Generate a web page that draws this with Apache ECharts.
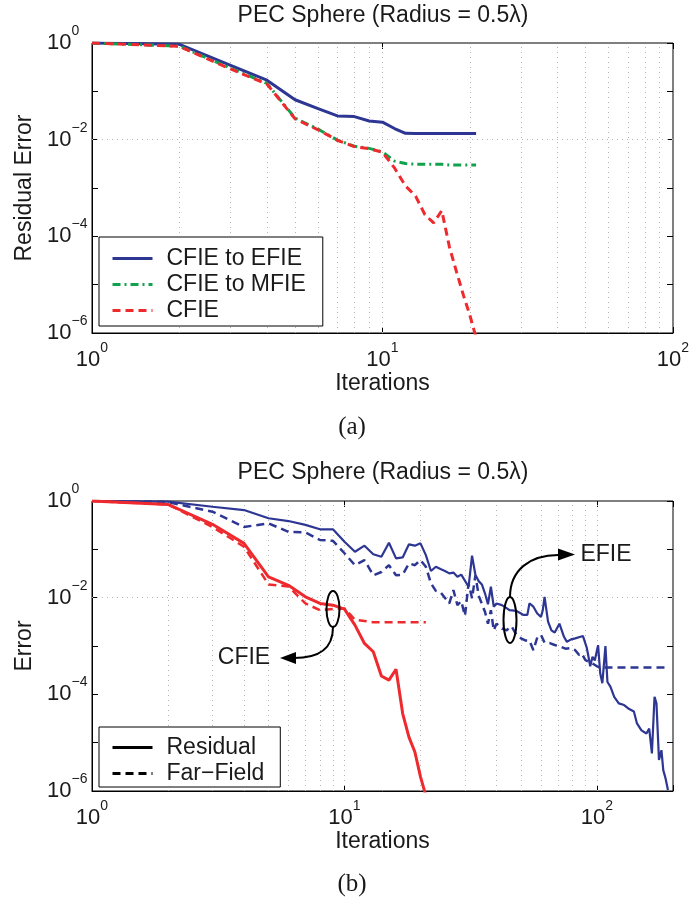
<!DOCTYPE html>
<html><head><meta charset="utf-8">
<script src="https://cdn.jsdelivr.net/npm/echarts@6/dist/echarts.min.js"></script>
<style>html,body{margin:0;padding:0;background:#fff}#c{width:693px;height:900px}</style>
</head><body><div id="c"></div><script>
const FONT = '"Liberation Sans", Arial, Helvetica, sans-serif';
const SERIF = '"Liberation Serif", "Times New Roman", serif';

// ---------- (a) data ----------
const iterA = [1,2,3,4,5,6,7,8,9,10,11,12,13,14,15,16,17,18,19,20,21];
const cfieToEfie = [1,0.94,0.345,0.17,0.067,0.044,0.031,0.030,0.0243,0.023,0.017,0.0135,0.0134,0.0134,0.0134,0.0134,0.0134,0.0134,0.0134,0.0134,0.0134];
const cfieToMfie = [1,0.86,0.30,0.146,0.028,0.0165,0.0098,0.0073,0.0066,0.0056,0.0036,0.0032,0.0031,0.0031,0.0031,0.0031,0.0030,0.0030,0.0030,0.0030,0.0030];
const cfieA = [1,0.85,0.29,0.142,0.027,0.016,0.0097,0.0072,0.0065,0.0055,0.0026,0.0011,0.00068,0.00028,0.00019,0.00034,0.00006,0.000018,0.000006,0.0000023,0.0000008];

// ---------- (b) data ----------
const iterCfieB = [1,2,3,4,5,6,7,8,9,10,11,12,13,14,15,16,17,18,19,20,21];
const cfieResidual = [1,0.85,0.33,0.133,0.027,0.018,0.0104,0.0076,0.0070,0.0058,0.0027,0.00113,0.00076,0.00024,0.000197,0.00033,0.00004,0.000013,0.0000064,0.00000196,0.0000008];
const cfieFarField = [1,0.85,0.29,0.113,0.0188,0.017,0.0076,0.0055,0.0058,0.0060,0.0035,0.0033,0.0031,0.0031,0.0031,0.0031,0.0031,0.0031,0.0031,0.0031,0.0031];

const iterEfieRes = [1,2,3,4,5,6,7,8,9,10,11,12,13,14,15,16,17,18,19,20,21,22,23,24,25,26,27,28,29,31,32,33,34,35,36,37,38,39,40,42,44,45,47,48,50,51,53,54,56,58,60,61,62,64,66,68,71,74,76,79,82,86,88,91,92,94,96,98,101,103,105,108,110,113,117,122,128,133,140,144,150,157,161,165,169,172,176,180,183,187,191];
const efieResidual = [1,0.97,0.76,0.65,0.44,0.385,0.32,0.26,0.26,0.144,0.089,0.119,0.079,0.070,0.137,0.065,0.068,0.127,0.119,0.133,0.076,0.0356,0.0436,0.039,0.0356,0.0318,0.033,0.027,0.030,0.0168,0.074,0.0294,0.022,0.0188,0.0123,0.0073,0.0168,0.0065,0.0076,0.0070,0.0060,0.0055,0.0054,0.0053,0.0047,0.0044,0.0044,0.0076,0.0065,0.0047,0.0040,0.0055,0.0104,0.0032,0.0021,0.0019,0.0029,0.00155,0.00122,0.00137,0.00144,0.00155,0.0016,0.00094,0.00071,0.00038,0.0006,0.0005,0.00104,0.00027,0.00017,0.001,0.00018,0.000144,0.000089,0.000065,0.00006,0.000051,0.000044,0.000025,0.000018,0.0000155,0.0000196,0.000006,0.000089,0.000065,0.0000044,0.000007,0.0000027,0.0000018,0.00000105];

const iterEfieFar = [1,2,3,4,5,6,7,8,9,10,11,12,13,14,15,16,17,18,19,20,21,22,23,24,26,27,28,29,30,31,32,33,34,36,37,38,39,40,42,44,45,46,48,50,52,54,56,58,60,62,65,68,72,75,79,82,85,87,90,95,100,103,120,140,160,190];
const efieFarField = [1,0.95,0.60,0.29,0.345,0.23,0.225,0.156,0.150,0.083,0.047,0.060,0.029,0.034,0.047,0.029,0.030,0.051,0.047,0.060,0.0436,0.0198,0.0138,0.013,0.0076,0.0144,0.0070,0.0085,0.0042,0.0198,0.0097,0.029,0.011,0.0051,0.0029,0.0055,0.0021,0.0029,0.0023,0.0021,0.0025,0.0025,0.0017,0.00144,0.0013,0.0013,0.00082,0.0015,0.0017,0.00117,0.00115,0.00105,0.00096,0.00088,0.0009,0.00082,0.00065,0.0007,0.00051,0.00045,0.00038,0.00036,0.00036,0.00036,0.00036,0.00036];

// ---------- grid lines ----------
const xGridA = [2,3,4,5,6,7,8,9,10,20,30,40,50,60,70,80,90];
const xGridB = [2,3,4,5,6,7,8,9,10,20,30,40,50,60,70,80,90,100];
const yGridLines = [1e-2, 1e-4];

const BLUE = '#2d3793', RED = '#ee2a2e', GREEN = '#12a14c', INK = '#1a1a1a';

function pairs(xs, ys){ return xs.map((x,i)=>[x, ys[i]]); }
function expLabel(v){
  const l = Math.log10(v), e = Math.round(l);
  if (Math.abs(l - e) > 0.01) return '';
  return '{b|10}{e|' + (e < 0 ? '\u2212' + (-e) : e) + '}';
}
const rich = {
  b: {fontSize: 22, fontFamily: FONT, color: INK, padding: [8,0,8,0]},
  e: {fontSize: 14, fontFamily: FONT, color: INK, verticalAlign: 'top'}
};
function mainX(gi, max){
  return {type:'log', logBase:10, gridIndex:gi, min:1, max:max,
    axisLine:{show:true, lineStyle:{color:'#000', width:1}},
    axisTick:{show:true, inside:true, length:6, lineStyle:{color:'#000'}},
    splitLine:{show:false}, minorTick:{show:false},
    axisLabel:{margin:8, formatter: v=>expLabel(v), rich: rich, showMaxLabel:true},
    name:'Iterations', nameLocation:'middle', nameGap:38,
    nameTextStyle:{fontFamily:FONT, fontSize:23, color:INK}};
}
function topX(gi, max){
  return {type:'log', logBase:10, gridIndex:gi, min:1, max:max, position:'top',
    axisLine:{show:false}, axisTick:{show:true, inside:true, length:6, lineStyle:{color:'#000'}},
    axisLabel:{show:false}, splitLine:{show:false}};
}
function mainY(gi, name){
  return {type:'log', logBase:10, gridIndex:gi, min:1e-6, max:1,
    axisLine:{show:true, lineStyle:{color:'#000', width:1}},
    axisTick:{show:true, inside:true, length:6, lineStyle:{color:'#000'}},
    splitLine:{show:false},
    axisLabel:{margin:45, align:'left', formatter: v=>{const e=Math.round(Math.log10(v)); return (e%2===0)?expLabel(v):'';}, rich: rich},
    name:name, nameLocation:'middle', nameGap:54, nameRotate:90,
    nameTextStyle:{fontFamily:FONT, fontSize:23, color:INK}};
}
function rightY(gi){
  return {type:'log', logBase:10, gridIndex:gi, min:1e-6, max:1, position:'right',
    axisLine:{show:false}, axisTick:{show:true, inside:true, length:6, lineStyle:{color:'#000'}},
    axisLabel:{show:false}, splitLine:{show:false}};
}
function gridMarks(xs){
  return {silent:true, symbol:'none', z:1, animation:false, label:{show:false},
    lineStyle:{color:'#b4b4b4', width:1, type:[1,4]},
    emphasis:{disabled:true},
    data: xs.map(v=>({xAxis:v})).concat(yGridLines.map(v=>({yAxis:v})))};
}
function line(name, gi, xs, ys, color, width, type, extra){
  return Object.assign({name:name, type:'line', xAxisIndex:gi, yAxisIndex:gi, data:pairs(xs, ys),
    symbol:'none', showSymbol:false, z:3, clip:true, color:color,
    lineStyle:{color:color, width:width, type:type}, emphasis:{disabled:true}}, extra||{});
}

const legendText = {fontFamily:FONT, fontSize:23, color:INK, lineHeight:20, padding:[0,0,0,9]};
const legendCommon = {orient:'vertical', left:99, itemWidth:40, itemHeight:20,
  backgroundColor:'#fff', borderColor:'#000', borderWidth:1, borderRadius:0,
  textStyle:legendText, selectedMode:false,
  itemStyle:{opacity:0, borderWidth:0}, lineStyle:{width:3}};

const chart = echarts.init(document.getElementById('c'), null, {renderer:'canvas'});
chart.setOption({
  animation:false,
  backgroundColor:'#fff',
  textStyle:{fontFamily:FONT},
  grid:[
    {left:92, right:20, top:43, height:290, show:true, borderColor:'#000', borderWidth:1, backgroundColor:'#fff'},
    {left:92, right:20, top:501, height:290, show:true, borderColor:'#000', borderWidth:1, backgroundColor:'#fff'}
  ],
  xAxis:[mainX(0,100), mainX(1,200), topX(0,100), topX(1,200)],
  yAxis:[mainY(0,'Residual Error'), mainY(1,'Error'), rightY(0), rightY(1)],
  legend:[
    Object.assign({data:['CFIE to EFIE','CFIE to MFIE','CFIE'], top:237, itemGap:3, padding:[10,17,4,12]}, legendCommon),
    Object.assign({data:['Residual','Far\u2212Field'], top:727, itemGap:3, padding:[9,16,2,12]}, legendCommon)
  ],
  series:[
    line('CFIE to EFIE', 0, iterA, cfieToEfie, BLUE, 3, 'solid', {markLine: gridMarks(xGridA)}),
    line('CFIE to MFIE', 0, iterA, cfieToMfie, GREEN, 3, [8,4,2,4]),
    line('CFIE', 0, iterA, cfieA, RED, 3, [8,5]),
    line('EFIE residual', 1, iterEfieRes, efieResidual, BLUE, 2.2, 'solid', {markLine: gridMarks(xGridB)}),
    line('EFIE far-field', 1, iterEfieFar, efieFarField, BLUE, 2.5, [8,5]),
    line('CFIE residual', 1, iterCfieB, cfieResidual, RED, 3, 'solid'),
    line('CFIE far-field', 1, iterCfieB, cfieFarField, RED, 2.5, [8,5]),
    line('Residual', 1, [], [], '#000', 3, 'solid'),
    line('Far\u2212Field', 1, [], [], '#000', 3, [8,5])
  ],
  graphic:[
    {type:'text', x:383, y:16, style:{text:'PEC Sphere (Radius = 0.5\u03bb)', font:'23px '+FONT, fill:INK, align:'center', verticalAlign:'middle'}},
    {type:'text', x:383, y:473, style:{text:'PEC Sphere (Radius = 0.5\u03bb)', font:'23px '+FONT, fill:INK, align:'center', verticalAlign:'middle'}},
    {type:'text', x:352, y:427, style:{text:'(a)', font:'25px '+SERIF, fill:INK, align:'center', verticalAlign:'middle'}},
    {type:'text', x:352, y:884, style:{text:'(b)', font:'25px '+SERIF, fill:INK, align:'center', verticalAlign:'middle'}},
    // CFIE annotation
    {type:'ellipse', shape:{cx:333, cy:609, rx:6.5, ry:18}, style:{fill:'none', stroke:'#000', lineWidth:2}, z:10},
    {type:'bezierCurve', shape:{x1:333, y1:627, cpx1:333, cpy1:650, cpx2:318, cpy2:658, x2:294, y2:658}, style:{fill:'none', stroke:'#000', lineWidth:2}, z:10},
    {type:'polygon', shape:{points:[[280,658],[296,652],[296,664]]}, style:{fill:'#000'}, z:10},
    {type:'text', x:244, y:658, style:{text:'CFIE', font:'23px '+FONT, fill:INK, align:'center', verticalAlign:'middle'}, z:10},
    // EFIE annotation
    {type:'ellipse', shape:{cx:510, cy:620, rx:6.5, ry:23}, style:{fill:'none', stroke:'#000', lineWidth:2}, z:10},
    {type:'bezierCurve', shape:{x1:510, y1:597, cpx1:510, cpy1:570, cpx2:530, cpy2:555, x2:558, y2:555}, style:{fill:'none', stroke:'#000', lineWidth:2}, z:10},
    {type:'polygon', shape:{points:[[575,554.5],[558,548.5],[558,560.5]]}, style:{fill:'#000'}, z:10},
    {type:'text', x:606, y:555, style:{text:'EFIE', font:'23px '+FONT, fill:INK, align:'center', verticalAlign:'middle'}, z:10}
  ]
});
</script></body></html>
